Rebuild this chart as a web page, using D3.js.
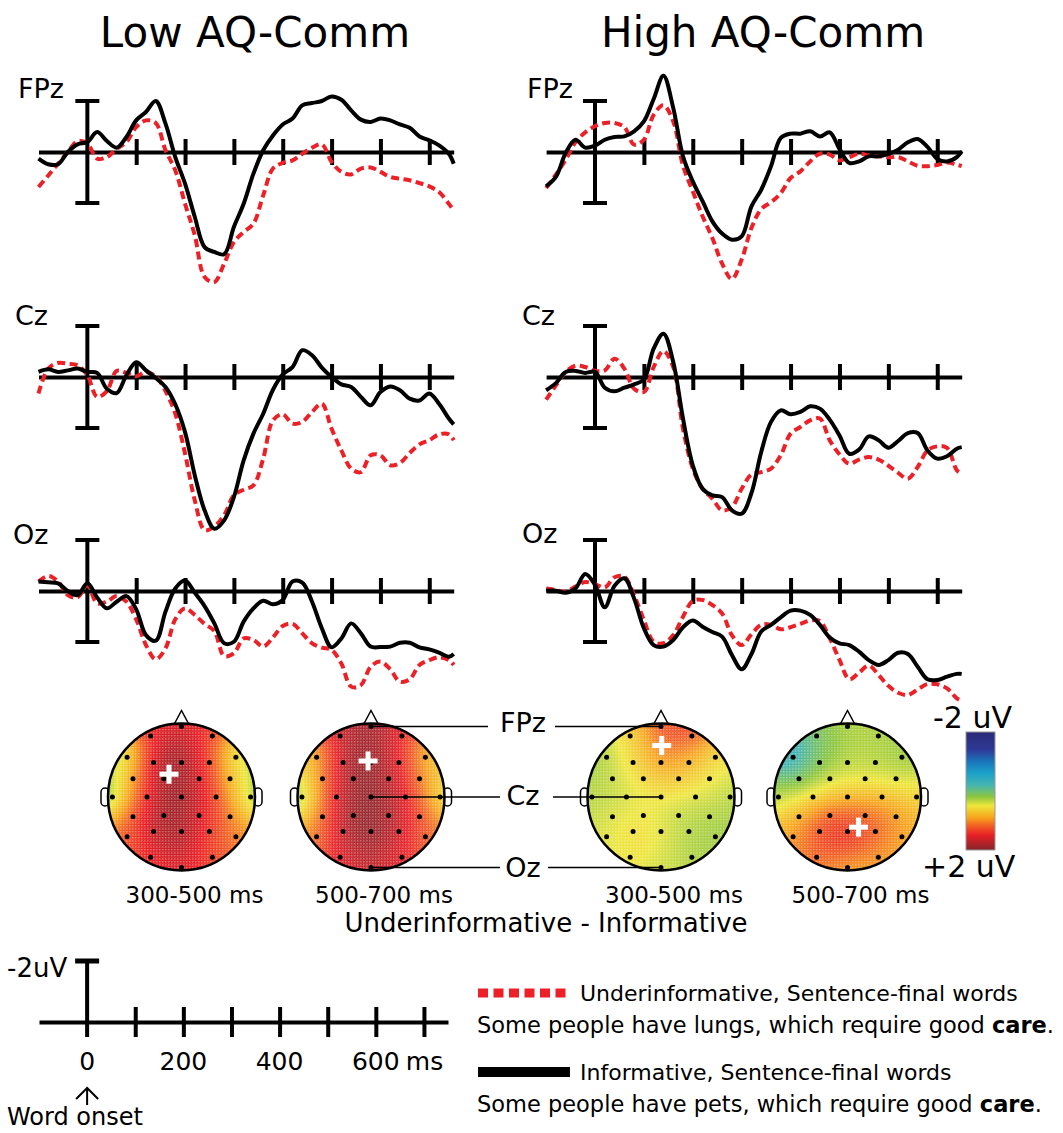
<!DOCTYPE html>
<html>
<head>
<meta charset="utf-8">
<script src="https://cdn.jsdelivr.net/npm/d3@7"></script>
<style>
  body { margin: 0; background: #fff; }
  svg text { font-family: "DejaVu Sans", sans-serif; fill: #000; }
</style>
</head>
<body>
<svg id="fig" width="1063" height="1133"></svg>
<script>
// ERP waveforms (Low / High AQ-Comm) + difference topographies

var times = d3.range(-100, 741, 20).concat([750]);

// uV values, one per time point (negative is plotted up)
var fpzLowUnder = [1.37,0.92,0.46,0,-0.43,-0.33,0.26,0.2,-0.13,-0.39,-0.98,-1.24,-1.14,-0.07,0.72,2.03,3.27,4.9,5.1,4.38,3.53,3.14,2.81,1.7,0.65,0.43,0.33,0.07,-0.17,-0.3,0.39,0.78,0.88,0.65,0.61,0.78,0.98,1.05,1.11,1.22,1.35,1.57,2.03,2.29];
var fpzLowInf = [0.26,0.48,0.48,0,-0.3,-0.39,-0.78,-0.43,-0.17,-0.59,-1.24,-1.57,-2.0,-1.11,0.2,1.24,2.55,3.73,3.92,4.01,2.94,2.03,0.85,-0.07,-0.65,-1.08,-1.31,-1.83,-1.92,-2.0,-2.18,-2.05,-1.63,-1.27,-1.18,-1.31,-1.24,-1.08,-0.95,-0.61,-0.46,-0.26,0.07,0.46];
var fpzHighUnder = [1.41,0.89,0.3,-0.38,-0.77,-1.01,-1.14,-1.14,-0.98,-0.29,-0.48,-1.46,-1.83,-1.2,0.54,1.54,2.52,3.37,4.38,4.98,4.22,2.98,2.24,1.97,1.61,1.02,0.76,0.37,0.07,0.1,0.33,0.2,0.07,0.13,0.17,0.21,0.2,0.37,0.54,0.56,0.51,0.41,0.5,0.55];
var fpzHighInf = [1.35,0.98,0.04,-0.48,-0.17,-0.25,-0.48,-0.59,-0.61,-0.81,-1.2,-2.08,-2.99,-1.73,0.17,1.15,1.93,2.72,3.2,3.44,3.31,2.13,1.48,0.56,-0.55,-0.72,-0.72,-0.81,-0.61,-0.77,-0.12,0.43,0.37,0.17,0.17,0.07,-0.09,-0.38,-0.51,-0.2,0.27,0.37,0.2,-0.03];
var czLowUnder = [0.65,-0.33,-0.55,-0.52,-0.46,-0.07,0.78,0.55,-0.24,-0.16,-0.03,-0.2,-0.03,0.55,1.44,3.0,4.84,6.0,5.86,5.42,4.64,4.42,4.25,3.2,1.7,1.46,1.83,1.76,1.37,1.05,2.03,2.88,3.59,3.73,3.07,3.07,3.46,3.37,2.98,2.64,2.48,2.25,2.25,2.48];
var czLowInf = [-0.2,-0.3,-0.2,-0.26,-0.33,-0.2,-0.16,0.46,0.63,-0.07,-0.58,-0.26,0.04,0.39,1.07,2.16,3.86,5.23,5.95,5.62,4.71,3.27,2.22,1.44,0.5,-0.1,-0.39,-1.05,-0.85,-0.37,0,0.29,0.39,0.78,1.11,0.59,0.37,0.52,0.85,0.92,0.65,1.05,1.63,1.86];
var czHighUnder = [0.89,0.33,-0.2,-0.44,-0.39,-0.24,-0.26,-0.72,-0.33,0.46,0.59,-0.39,-1.02,-0.39,2.03,3.59,4.38,4.77,5.23,5.1,4.38,3.82,3.73,3.59,3.07,2.22,1.96,1.7,1.63,2.48,3.03,3.4,3.24,3.14,3.24,3.48,3.76,3.99,3.53,2.88,2.72,2.78,3.66,3.8];
var czHighInf = [0.52,0.24,-0.2,-0.24,-0.16,-0.2,0.42,0.56,0.42,0.29,0.1,-1.11,-1.7,-0.59,1.63,3.46,4.38,4.64,4.71,5.23,5.36,4.55,2.94,1.76,1.31,1.46,1.37,1.15,1.24,1.67,2.29,3.01,2.85,2.33,2.48,2.77,2.51,2.2,2.2,2.88,3.2,3.11,2.81,2.75];
var ozLowUnder = [-0.37,-0.59,-0.37,0.16,0.25,-0.22,0.48,0.42,0.2,0.42,1.11,2.12,2.68,2.25,1.11,0.68,0.94,1.29,1.57,2.55,2.44,1.86,1.92,2.18,1.82,1.37,1.29,1.66,2.05,2.22,2.31,2.84,3.75,3.69,2.97,2.77,3.07,3.56,3.46,2.9,2.71,2.6,2.71,2.9];
var ozLowInf = [-0.37,-0.34,-0.3,0,0.16,-0.3,0.25,0.68,0.42,0.2,0.72,1.73,1.95,0.81,-0.1,-0.41,0.07,0.59,1.27,2.05,1.99,1.2,0.68,0.38,0.52,0.35,-0.37,-0.33,0.42,1.46,2.21,1.86,1.27,1.66,2.18,2.2,2.18,2.03,2.03,2.21,2.29,2.42,2.58,2.47];
var ozHighUnder = [-0.1,-0.04,0.03,-0.17,-0.35,-0.27,-0.14,-0.54,-0.56,0.16,1.14,1.99,2.05,1.73,1.01,0.39,0.35,0.55,0.88,1.73,2.12,1.7,1.32,1.33,1.5,1.42,1.29,1.16,1.18,1.85,2.7,3.46,3.2,2.93,3.29,3.72,3.99,4.08,3.86,3.65,3.66,3.82,4.21,4.3];
var ozHighInf = [-0.01,-0.01,0.07,-0.1,-0.67,-0.24,0.64,-0.21,-0.5,0.29,1.46,2.12,2.18,1.92,1.42,1.16,1.4,1.61,1.79,2.51,3.07,2.47,1.59,1.33,1.03,0.77,0.77,0.94,1.33,1.82,2.05,2.12,2.38,2.71,2.9,2.71,2.42,2.47,2.97,3.46,3.49,3.36,3.25,3.25];

var groups = ["Low AQ-Comm", "High AQ-Comm"];
var channels = ["FPz", "Cz", "Oz"];
var tickMs = [100, 200, 300, 400, 500, 600, 700];
var scaleLabels = [0, 200, 400, 600];

// electrode layout on a unit head (x right, y down)
var electrodes = [[0,-0.96],[-0.42,-0.83],[0.42,-0.83],[-0.74,-0.54],[0.74,-0.54],[-0.38,-0.47],[0,-0.47],[0.38,-0.47],
  [-0.66,-0.25],[-0.24,-0.25],[0.24,-0.25],[0.66,-0.25],[-0.94,0],[-0.47,0],[0,0],[0.47,0],[0.94,0],
  [-0.66,0.27],[-0.24,0.25],[0.24,0.25],[0.66,0.27],[-0.74,0.54],[-0.38,0.47],[0,0.47],[0.38,0.47],[0.74,0.54],
  [-0.42,0.82],[0.42,0.82],[0,0.96]];
// Underinformative - Informative difference, uV at each electrode
var topoLow300 = [1.6,1.5,1.4,0.0,0.1,1.8,2.0,1.4,0.8,2.0,1.6,0.7,-0.1,1.5,2.0,1.4,0.0,1.2,2.0,1.6,1.0,1.1,1.8,1.9,1.4,1.0,1.4,1.3,1.6];
var topoLow500 = [1.9,1.7,1.5,0.5,0.5,1.9,2.0,1.6,0.9,2.0,1.8,1.0,-0.1,1.7,2.0,1.6,0.3,1.0,2.0,1.9,1.3,0.9,1.9,2.0,1.7,1.0,1.5,1.5,1.7];
var topoHigh300 = [1.3,0.6,1.4,0.2,0.5,0.7,1.2,0.9,0.3,0.5,0.7,0.5,0.3,0.4,0.5,0.4,0.3,0.4,0.5,0.3,0.3,0.4,0.7,0.5,0.3,0.2,0.5,0.3,0.4];
var topoHigh500 = [0.3,0.1,0.3,-0.6,0.2,0.1,0.3,0.3,0.0,0.4,0.4,0.3,0.3,0.6,0.8,0.9,0.6,0.8,1.3,1.2,1.0,0.9,1.5,1.6,1.3,0.8,1.1,0.9,0.9];
var topoWindows = ["300-500 ms", "500-700 ms", "300-500 ms", "500-700 ms"];
var peaks = [[-0.17,-0.31],[-0.04,-0.49],[0.01,-0.70],[0.15,0.41]];

var colorStops = [-2, -1.4, -1.0, -0.6, -0.2, 0.2, 0.5, 0.9, 1.2, 1.5, 2];
var colorRange = ["#2b2a78","#2e3a96","#1b75bb","#1ba1c9","#45b5b0","#8dc63f","#eee63a","#f7a51d","#f15a24","#e81f26","#84242a"];

var svg = d3.select("#fig");
svg.append("rect").attr("width", 1063).attr("height", 1133).attr("fill", "#fff");
var defs = svg.append("defs");

// light halftone screen laid over the maps
var screen = defs.append("pattern").attr("id", "screen")
  .attr("patternUnits", "userSpaceOnUse").attr("width", 3).attr("height", 3);
screen.append("rect").attr("width", 1.5).attr("height", 1.5).attr("fill", "#fff").attr("opacity", 0.28);

var RED = "#ec2127";

// ---------- waveform panels ----------
var colX = [
  d3.scaleLinear().domain([-100, 750]).range([38.5, 453.7]),
  d3.scaleLinear().domain([-100, 750]).range([546.1, 961.7])
];
var rowY = [152, 377, 591];
var labelPos = [[[18, 98], [15, 325], [13, 544]], [[527, 98], [522, 325], [522, 543]]];

var panels = [
  { col: 0, row: 0, under: fpzLowUnder, inf: fpzLowInf },
  { col: 1, row: 0, under: fpzHighUnder, inf: fpzHighInf },
  { col: 0, row: 1, under: czLowUnder, inf: czLowInf },
  { col: 1, row: 1, under: czHighUnder, inf: czHighInf },
  { col: 0, row: 2, under: ozLowUnder, inf: ozLowInf },
  { col: 1, row: 2, under: ozHighUnder, inf: ozHighInf }
];

groups.forEach(function (name, i) {
  svg.append("text")
    .attr("x", i === 0 ? 255 : 763)
    .attr("y", 47)
    .attr("text-anchor", "middle")
    .attr("font-size", "42px")
    .text(name);
});

panels.forEach(function (p) {
  var x = colX[p.col];
  var y = d3.scaleLinear().domain([-2, 2]).range([rowY[p.row] - 51, rowY[p.row] + 51]);
  var g = svg.append("g");

  var ax = g.append("g")
    .attr("transform", `translate(0, ${y(0)})`)
    .call(d3.axisBottom(x).tickValues(tickMs).tickSize(13).tickSizeOuter(0).tickFormat(""));
  ax.select(".domain").attr("stroke", "#000").attr("stroke-width", 4);
  ax.selectAll(".tick line").attr("y1", -13).attr("stroke", "#000").attr("stroke-width", 4);

  // +-2 uV bar at word onset
  g.append("line")
    .attr("x1", x(0)).attr("x2", x(0))
    .attr("y1", y(-2)).attr("y2", y(2))
    .attr("stroke", "#000").attr("stroke-width", 4);
  [-2, 2].forEach(function (v) {
    g.append("line")
      .attr("x1", x(0) - 12).attr("x2", x(0) + 12)
      .attr("y1", y(v)).attr("y2", y(v))
      .attr("stroke", "#000").attr("stroke-width", 4);
  });

  var line = d3.line()
    .x(function (d, i) { return x(times[i]); })
    .y(function (d) { return y(d); })
    .curve(d3.curveCatmullRom.alpha(0.5));

  g.append("path").datum(p.under)
    .attr("d", line)
    .attr("fill", "none")
    .attr("stroke", RED)
    .attr("stroke-width", 4)
    .attr("stroke-dasharray", "8,4.5");
  g.append("path").datum(p.inf)
    .attr("d", line)
    .attr("fill", "none")
    .attr("stroke", "#000")
    .attr("stroke-width", 4);

  var lp = labelPos[p.col][p.row];
  g.append("text")
    .attr("x", lp[0]).attr("y", lp[1])
    .attr("font-size", "27px")
    .text(channels[p.row]);
});

// ---------- topographic maps ----------
var color = d3.scaleLinear().domain(colorStops).range(colorRange).clamp(true);
var headCx = [181.5, 371, 661, 847.5], headCy = 797, headR = 73.5;
var maps = [topoLow300, topoLow500, topoHigh300, topoHigh500];

function interp(u, v, vals) {
  var num = 0, den = 0, s2 = 2 * 0.24 * 0.24;
  electrodes.forEach(function (e, i) {
    var d2 = (u - e[0]) * (u - e[0]) + (v - e[1]) * (v - e[1]);
    var w = Math.exp(-d2 / s2);
    num += w * vals[i];
    den += w;
  });
  return num / den;
}

maps.forEach(function (vals, m) {
  var cx = headCx[m];
  var hx = d3.scaleLinear().domain([-1, 1]).range([cx - headR, cx + headR]);
  var hy = d3.scaleLinear().domain([-1, 1]).range([headCy - headR, headCy + headR]);
  defs.append("clipPath").attr("id", "head" + m)
    .append("circle").attr("cx", cx).attr("cy", headCy).attr("r", headR);

  var g = svg.append("g");

  // ears and nose
  [-1, 1].forEach(function (s) {
    g.append("rect")
      .attr("x", s < 0 ? cx - headR - 7 : cx + headR - 1)
      .attr("y", headCy - 9)
      .attr("width", 8).attr("height", 18).attr("rx", 4)
      .attr("fill", "#fff").attr("stroke", "#000").attr("stroke-width", 1.5);
  });
  g.append("path")
    .attr("d", `M${cx - 8},${headCy - headR + 2}L${cx},${headCy - headR - 13}L${cx + 8},${headCy - headR + 2}Z`)
    .attr("fill", "#fff").attr("stroke", "#000").attr("stroke-width", 1.5);

  var cells = [];
  var step = 2;
  for (var px = cx - headR; px < cx + headR; px += step) {
    for (var py = headCy - headR; py < headCy + headR; py += step) {
      var u = hx.invert(px + step / 2), v = hy.invert(py + step / 2);
      if (u * u + v * v <= 1.08) cells.push({ px: px, py: py, val: interp(u, v, vals) });
    }
  }
  var mapG = g.append("g").attr("clip-path", `url(#head${m})`);
  mapG.selectAll("rect")
    .data(cells)
    .join("rect")
    .attr("x", function (d) { return d.px; })
    .attr("y", function (d) { return d.py; })
    .attr("width", step + 0.3)
    .attr("height", step + 0.3)
    .attr("fill", function (d) { return color(d.val); });
  mapG.append("circle")
    .attr("cx", cx).attr("cy", headCy).attr("r", headR)
    .attr("fill", "url(#screen)");

  g.append("circle")
    .attr("cx", cx).attr("cy", headCy).attr("r", headR)
    .attr("fill", "none").attr("stroke", "#000").attr("stroke-width", 2.5);

  g.selectAll(".el")
    .data(electrodes)
    .join("circle")
    .attr("class", "el")
    .attr("cx", function (d) { return hx(d[0]); })
    .attr("cy", function (d) { return hy(d[1]); })
    .attr("r", 2.5)
    .attr("fill", "#000");

  // peak marker
  var pk = peaks[m];
  g.append("rect").attr("x", hx(pk[0]) - 9.5).attr("y", hy(pk[1]) - 2.5).attr("width", 19).attr("height", 5).attr("fill", "#fff");
  g.append("rect").attr("x", hx(pk[0]) - 2.5).attr("y", hy(pk[1]) - 9.5).attr("width", 5).attr("height", 19).attr("fill", "#fff");

  g.append("text")
    .attr("x", cx + 13).attr("y", 903)
    .attr("text-anchor", "middle")
    .attr("font-size", "23px")
    .text(topoWindows[m]);
});

// electrode call-outs between the two groups
var hxL = d3.scaleLinear().domain([-1, 1]).range([headCx[1] - headR, headCx[1] + headR]);
var hxR = d3.scaleLinear().domain([-1, 1]).range([headCx[2] - headR, headCx[2] + headR]);
var hyC = d3.scaleLinear().domain([-1, 1]).range([headCy - headR, headCy + headR]);
var callouts = [
  { name: "FPz", e: electrodes[0], l: 488, r: 555, base: 732 },
  { name: "Cz", e: electrodes[14], l: 500, r: 553, base: 805 },
  { name: "Oz", e: electrodes[28], l: 500, r: 548, base: 877 }
];
callouts.forEach(function (c) {
  var yy = hyC(c.e[1]);
  svg.append("line").attr("x1", hxL(c.e[0])).attr("x2", c.l).attr("y1", yy).attr("y2", yy)
    .attr("stroke", "#000").attr("stroke-width", 1.5);
  svg.append("line").attr("x1", c.r).attr("x2", hxR(c.e[0])).attr("y1", yy).attr("y2", yy)
    .attr("stroke", "#000").attr("stroke-width", 1.5);
  svg.append("text").attr("x", 523).attr("y", c.base)
    .attr("text-anchor", "middle").attr("font-size", "27px").text(c.name);
});

svg.append("text")
  .attr("x", 546).attr("y", 932)
  .attr("text-anchor", "middle")
  .attr("font-size", "26px")
  .text("Underinformative - Informative");

// colour bar
var grad = defs.append("linearGradient").attr("id", "cbar")
  .attr("x1", 0).attr("y1", 0).attr("x2", 0).attr("y2", 1);
colorStops.forEach(function (s, i) {
  grad.append("stop").attr("offset", (s + 2) / 4).attr("stop-color", colorRange[i]);
});
var cbY = d3.scaleLinear().domain([-2, 2]).range([732, 850]);
svg.append("rect")
  .attr("x", 966).attr("y", cbY(-2))
  .attr("width", 29).attr("height", cbY(2) - cbY(-2))
  .attr("fill", "url(#cbar)").attr("stroke", "#999").attr("stroke-width", 1);
svg.append("text").attr("x", 933).attr("y", 728).attr("font-size", "30px").text("-2 uV");
svg.append("text").attr("x", 922).attr("y", 877).attr("font-size", "30px").text("+2 uV");

// ---------- scale key ----------
var sx = d3.scaleLinear().domain([-100, 750]).range([39, 448]);
var sy = d3.scaleLinear().domain([-2, 0]).range([961, 1022]);
var key = svg.append("g");
var kax = key.append("g")
  .attr("transform", `translate(0, ${sy(0)})`)
  .call(d3.axisBottom(sx).tickValues(tickMs).tickSize(15).tickSizeOuter(0).tickFormat(""));
kax.select(".domain").attr("stroke", "#000").attr("stroke-width", 4);
kax.selectAll(".tick line").attr("y1", -15).attr("stroke", "#000").attr("stroke-width", 4);
key.append("line").attr("x1", sx(0)).attr("x2", sx(0)).attr("y1", sy(-2)).attr("y2", sy(0) + 15)
  .attr("stroke", "#000").attr("stroke-width", 4);
key.append("line").attr("x1", sx(0) - 12).attr("x2", sx(0) + 12).attr("y1", sy(-2)).attr("y2", sy(-2))
  .attr("stroke", "#000").attr("stroke-width", 5);
key.append("text").attr("x", 7).attr("y", 977).attr("font-size", "26px").text("-2uV");
scaleLabels.forEach(function (t) {
  key.append("text")
    .attr("x", sx(t)).attr("y", 1070)
    .attr("text-anchor", "middle")
    .attr("font-size", "25px")
    .text(t);
});
key.append("text").attr("x", sx(600) + 30).attr("y", 1070).attr("font-size", "25px").text("ms");
key.append("path")
  .attr("d", `M${sx(0) - 11},${1099}L${sx(0)},${1088}L${sx(0) + 11},${1099}M${sx(0)},${1088}L${sx(0)},${1105}`)
  .attr("fill", "none").attr("stroke", "#000").attr("stroke-width", 2);
key.append("text").attr("x", 7).attr("y", 1125).attr("font-size", "24px").text("Word onset");

// ---------- legend ----------
var legend = [
  { dash: true, title: "Underinformative, Sentence-final words", sentence: "Some people have lungs, which require good ", y: 993 },
  { dash: false, title: "Informative, Sentence-final words", sentence: "Some people have pets,  which require good ", y: 1072 }
];
legend.forEach(function (d) {
  svg.append("line")
    .attr("x1", 478).attr("x2", d.dash ? 567 : 570)
    .attr("y1", d.y).attr("y2", d.y)
    .attr("stroke", d.dash ? RED : "#000")
    .attr("stroke-width", d.dash ? 9 : 10)
    .attr("stroke-dasharray", d.dash ? "10,5.5" : null);
  svg.append("text")
    .attr("x", 580).attr("y", d.y + 8)
    .attr("font-size", "22px")
    .text(d.title);
  var t = svg.append("text")
    .attr("x", 477).attr("y", d.y + 40)
    .attr("font-size", "22.5px");
  t.append("tspan").text(d.sentence);
  t.append("tspan").attr("font-weight", "bold").text("care");
  t.append("tspan").text(".");
});
</script>
</body>
</html>
